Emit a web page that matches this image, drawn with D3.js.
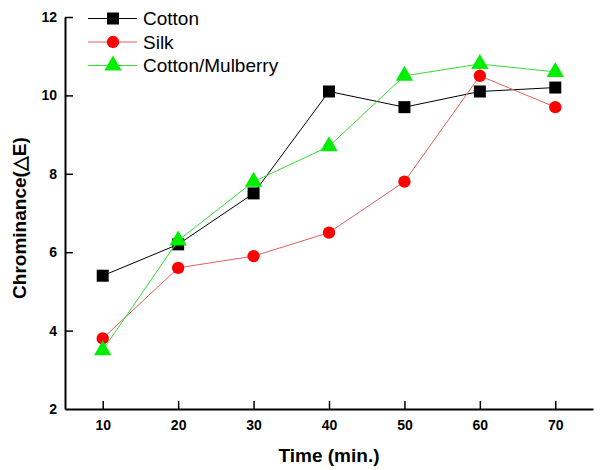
<!DOCTYPE html>
<html><head><meta charset="utf-8">
<script src="https://cdn.jsdelivr.net/npm/d3@7"></script>
<style>body{margin:0;background:#fff}svg{display:block}</style>
</head><body>
<svg id="c" width="606" height="470"></svg>
<script>
const times = [10, 20, 30, 40, 50, 60, 70];
const cotton = [5.4, 6.2, 7.5, 10.1, 9.7, 10.1, 10.2];
const silk = [3.8, 5.6, 5.9, 6.5, 7.8, 10.5, 9.7];
const mulberry = [3.5, 6.3, 7.8, 8.7, 10.5, 10.8, 10.6];
const xTicks = [10, 20, 30, 40, 50, 60, 70];
const yTicks = [2, 4, 6, 8, 10, 12];
const seriesNames = ["Cotton", "Silk", "Cotton/Mulberry"];

const series = [
  {name: seriesNames[0], values: cotton, color: "#000", line: "#000", shape: d3.symbolSquare, size: 144},
  {name: seriesNames[1], values: silk, color: "#ff0000", line: "#e06060", shape: d3.symbolCircle, size: 120},
  {name: seriesNames[2], values: mulberry, color: "#00ee00", line: "#33dd33", shape: d3.symbolTriangle, size: 130}
];

const svg = d3.select("#c");
const mL = 65, mR = 593, mT = 17, mB = 409;
const x = d3.scaleLinear().domain([5, 75]).range([mL, mR]);
const y = d3.scaleLinear().domain([2, 12]).range([mB, mT]);

const font = "Liberation Sans, Arial, sans-serif";

// axes
const gx = svg.append("g").attr("transform", `translate(0,${mB})`)
  .call(d3.axisBottom(x).tickValues(xTicks).tickSize(-8).tickPadding(11).tickSizeOuter(0));
const gy = svg.append("g").attr("transform", `translate(${mL},0)`)
  .call(d3.axisLeft(y).tickValues(yTicks).tickSize(-8).tickPadding(8).tickSizeOuter(0));
[gx, gy].forEach(g => {
  g.select(".domain").attr("stroke", "#000").attr("stroke-width", 2);
  g.selectAll(".tick line").attr("stroke", "#000").attr("stroke-width", 1.5);
  g.selectAll(".tick text").attr("font-family", font).attr("font-weight", "bold")
    .attr("font-size", 14).attr("fill", "#000");
});
gy.selectAll(".tick").filter(d => d === 2).select("line").remove();

// lines and markers
series.forEach(s => {
  const pts = times.map((t, i) => [t, s.values[i]]);
  svg.append("path").datum(pts)
    .attr("fill", "none").attr("stroke", s.line).attr("stroke-width", 1)
    .attr("d", d3.line().x(d => x(d[0])).y(d => y(d[1])));
  svg.append("g").selectAll("path").data(pts).join("path")
    .attr("transform", d => `translate(${x(d[0])},${y(d[1])})`)
    .attr("d", d3.symbol().type(s.shape).size(s.size))
    .attr("fill", s.color);
});

// legend
const lg = svg.append("g");
series.forEach((s, i) => {
  const yy = 18.5 + i * 23.5;
  lg.append("line").attr("x1", 88).attr("x2", 137).attr("y1", yy).attr("y2", yy)
    .attr("stroke", s.line).attr("stroke-width", 1);
  lg.append("path").attr("transform", `translate(113,${yy})`)
    .attr("d", d3.symbol().type(s.shape).size(s.size)).attr("fill", s.color);
  lg.append("text").attr("x", 143).attr("y", yy + 6.5).text(s.name)
    .attr("font-family", font).attr("font-size", 19).attr("fill", "#000");
});

// titles
svg.append("text").attr("x", 329).attr("y", 462).attr("text-anchor", "middle")
  .attr("font-family", font).attr("font-weight", "bold").attr("font-size", 19).text("Time (min.)");
svg.append("text").attr("transform", `translate(26,218) rotate(-90)`)
  .attr("text-anchor", "middle")
  .attr("font-family", font).attr("font-weight", "bold").attr("font-size", 19).text("Chrominance(△E)");
</script>
</body></html>
